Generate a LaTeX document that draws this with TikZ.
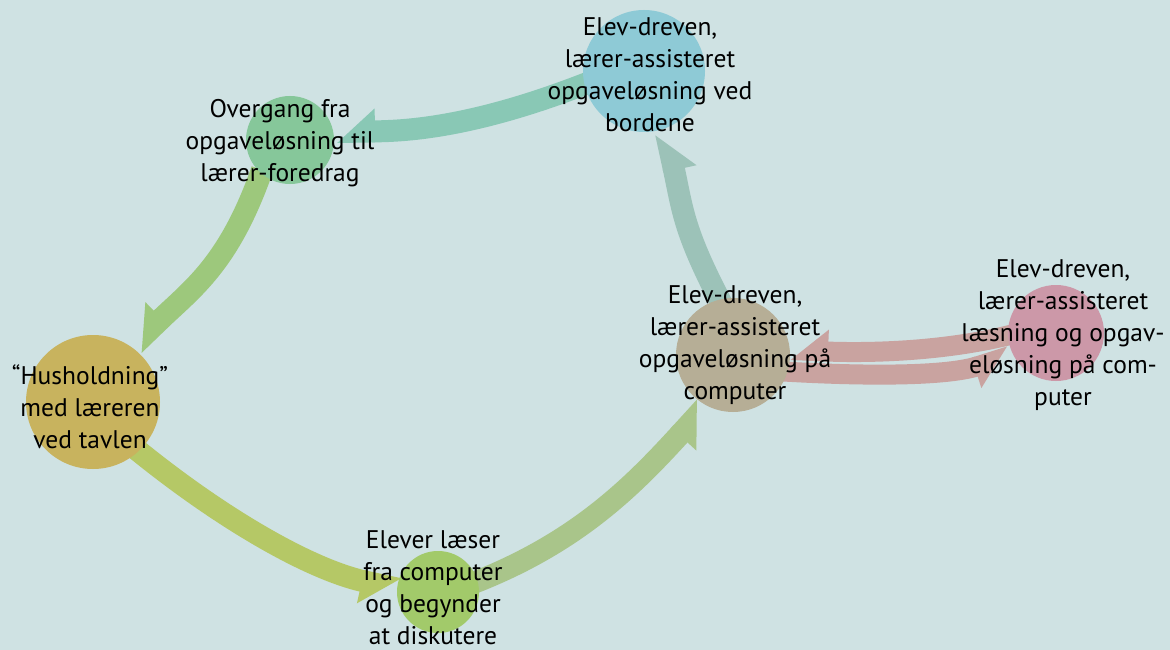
\documentclass[tikz,border=0pt]{standalone}
\usepackage{fontspec}
\setmainfont{PT Sans}
\usetikzlibrary{arrows.meta,calc}
\definecolor{bg}{HTML}{CFE2E3}
\definecolor{cblue}{HTML}{8ECAD6}
\definecolor{cover}{HTML}{86C79A}
\definecolor{chus}{HTML}{C8B35E}
\definecolor{celev}{HTML}{A2CA6A}
\definecolor{cbrown}{HTML}{B6AE96}
\definecolor{cpink}{HTML}{CC98A8}
\definecolor{aA}{HTML}{89C8B5}
\definecolor{aB}{HTML}{9DC87C}
\definecolor{aC}{HTML}{B5C866}
\definecolor{aD}{HTML}{A9C58A}
\definecolor{aE}{HTML}{9CC2B8}
\definecolor{aF}{HTML}{C9A3A0}
\pgfdeclarearrow{
  name = BigHalf,
  setup code = {
    \pgfarrowssettipend{0pt}
    \pgfarrowssetlineend{-35pt}
    \pgfarrowssetbackend{-38pt}
    \pgfarrowshullpoint{0pt}{11pt}
    \pgfarrowshullpoint{-38pt}{11pt}
    \pgfarrowshullpoint{-38pt}{-23pt}
  },
  drawing code = {
    \pgfpathmoveto{\pgfqpoint{0pt}{11pt}}
    \pgfpathlineto{\pgfqpoint{-38pt}{11pt}}
    \pgfpathlineto{\pgfqpoint{-38pt}{-23pt}}
    \pgfpathclose
    \pgfusepathqfill
  }
}
\pgfdeclarearrow{
  name = MidHalf,
  setup code = {
    \pgfarrowssettipend{0pt}
    \pgfarrowssetlineend{-34pt}
    \pgfarrowssetbackend{-37pt}
    \pgfarrowshullpoint{0pt}{10pt}
    \pgfarrowshullpoint{-37pt}{10pt}
    \pgfarrowshullpoint{-37pt}{-22pt}
  },
  drawing code = {
    \pgfpathmoveto{\pgfqpoint{0pt}{10pt}}
    \pgfpathlineto{\pgfqpoint{-37pt}{10pt}}
    \pgfpathlineto{\pgfqpoint{-37pt}{-22pt}}
    \pgfpathclose
    \pgfusepathqfill
  }
}
\begin{document}
\begin{tikzpicture}[x=1pt,y=-1pt,
  blob/.style={circle,inner sep=0pt,draw=none,fill=#1},
  bigarrow/.style={color=#1,line width=22pt,-{BigHalf}},
  midarrow/.style={color=#1,line width=20pt,-{MidHalf}},
  lbl/.style={font=\fontsize{25.5}{32}\selectfont,align=center,inner sep=0pt,text=black}]
\useasboundingbox (0,0) rectangle (1170,650);
\fill[bg] (0,0) rectangle (1170,650);
% circle centres
\coordinate (blue) at (644,71);
\coordinate (over) at (290,140);
\coordinate (hus) at (93,402);
\coordinate (elev) at (438,592);
\coordinate (brown) at (733,355);
\coordinate (pink) at (1056,333);
% arrows
\draw[bigarrow=aA] ($(blue)+(-49,9)$) .. controls (470,130) and (400,131) .. ($(over)+(47,-8)$);
\draw[bigarrow=aB] ($(over)+(-28,30)$) .. controls (229,264) and (192,289) .. ($(hus)+(41,-57)$);
\draw[bigarrow=aC] ($(hus)+(32,38)$) .. controls (215,515) and (308,569) .. ($(elev)+(-39,-3)$);
\draw[bigarrow=aD] ($(elev)+(22,-4)$) .. controls (573,547) and (631,488) .. ($(brown)+(-28,52)$);
\draw[bigarrow=aE] ($(brown)+(-8,-45)$) .. controls (683,231) and (683,211) .. ($(blue)+(22,62)$);
\draw[midarrow=aF] ($(pink)+(-31,-2)$) .. controls (948,353) and (861,353) .. ($(brown)+(58,-5)$);
\draw[midarrow=aF] ($(brown)+(42,16)$) .. controls (855,376) and (943.5,377) .. ($(pink)+(-46,23)$);
% circles
\node[blob=cblue, minimum size=122pt] (nblue) at (blue) {};
\node[blob=cover, minimum size=88pt] (nover) at (over) {};
\node[blob=chus, minimum size=134pt] (nhus) at (hus) {};
\node[blob=celev, minimum size=82pt] (nelev) at (elev) {};
\node[blob=cbrown, minimum size=114pt] (nbrown) at (brown) {};
\node[blob=cpink, minimum size=96pt] (npink) at (pink) {};
% texts
\node[lbl] (tblue) at (650,75) {Elev-dreven,\\lærer-assisteret\\opgaveløsning ved\\bordene};
\node[lbl] (tover) at (280,143) {Overgang fra\\opgaveløsning til\\lærer-foredrag};
\node[lbl] (thus) at (90,407) {“Husholdning”\\med læreren\\ved tavlen};
\node[lbl] (telev) at (433,588) {Elever læser\\fra computer\\og begynder\\at diskutere};
\node[lbl] (tbrown) at (735,345) {Elev-dreven,\\lærer-assisteret\\opgaveløsning på\\computer};
\node[lbl] (tpink) at (1063,335) {Elev-dreven,\\lærer-assisteret\\læsning og opgav-\\eløsning på com-\\puter};
\end{tikzpicture}
\end{document}
